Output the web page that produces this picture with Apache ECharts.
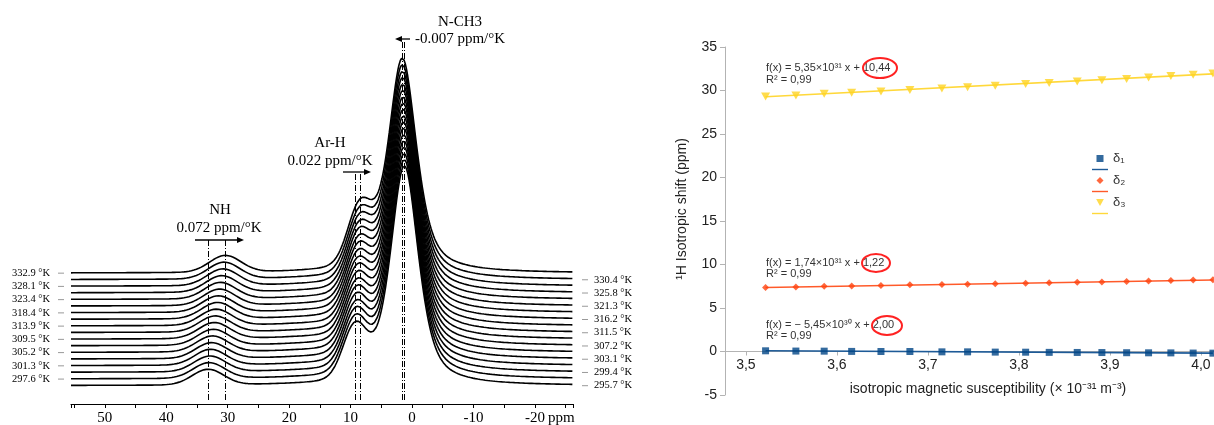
<!DOCTYPE html>
<html><head><meta charset="utf-8">
<script src="https://cdn.jsdelivr.net/npm/echarts@6/dist/echarts.min.js"></script>
<style>html,body{margin:0;padding:0;background:#fff}#c{width:1214px;height:425px}</style>
</head><body><div id="c"></div>
<script>
// ===== Left panel: variable-temperature 1H NMR spectra (bottom trace = lowest T) =====
const temperatures = [295.7, 297.6, 299.4, 301.3, 303.1, 305.2, 307.2, 309.5, 311.5, 313.9, 316.2, 318.4, 321.3, 323.4, 325.8, 328.1, 330.4, 332.9];
// peak positions (ppm) read per trace
const nhShift   = [33.2, 33.05, 32.9, 32.8, 32.65, 32.5, 32.35, 32.2, 32.05, 31.9, 31.7, 31.55, 31.35, 31.2, 31.0, 30.8, 30.6, 30.4];
const arhShift  = [9.27, 9.22, 9.17, 9.12, 9.08, 9.03, 8.98, 8.93, 8.88, 8.83, 8.78, 8.73, 8.67, 8.62, 8.57, 8.52, 8.49, 8.46];
const nch3Shift = [1.25, 1.27, 1.29, 1.31, 1.33, 1.35, 1.37, 1.39, 1.41, 1.43, 1.45, 1.47, 1.49, 1.51, 1.53, 1.55, 1.57, 1.58];
// peak heights (intensity units) read per trace
const nch3Height = [220, 219.5, 219, 219, 218.5, 218, 218, 217.5, 217, 217, 216.5, 216, 216, 215.5, 215.5, 215, 215, 215];
const arhHeight  = [50, 50.5, 51, 51, 51.5, 52, 52, 52.5, 53, 53, 53.5, 54, 54, 54.5, 54.5, 55, 55, 55.5];
const nhHeight   = [15.5, 15.5, 15.5, 15.6, 15.6, 15.7, 15.7, 15.8, 15.8, 15.9, 16, 16, 16.1, 16.2, 16.3, 16.4, 16.5, 16.6];
// line widths (FWHM, ppm) and Lorentzian fraction
const nch3Width = 5.5, arhWidth = 4.6, nhWidth = 6.0, nch3Lorentz = 0.6;
const slopes = ['0.072 ppm/°K', '0.022 ppm/°K', '-0.007 ppm/°K'];
const peakNames = ['NH', 'Ar-H', 'N-CH3'];

// ===== Right panel: isotropic shift vs isotropic magnetic susceptibility =====
const susceptibility = [3.5216, 3.5549, 3.5860, 3.6162, 3.6484, 3.6802, 3.7154, 3.7436, 3.7740, 3.8074, 3.8333, 3.8641, 3.8912, 3.9184, 3.9425, 3.9670, 3.9915, 4.0132];
const delta1 = [0.08, 0.05, 0.04, 0.01, 0.00, 0.00, -0.04, -0.04, -0.07, -0.08, -0.10, -0.11, -0.12, -0.14, -0.15, -0.16, -0.18, -0.19];
const delta2 = [7.37, 7.42, 7.49, 7.54, 7.59, 7.66, 7.70, 7.73, 7.80, 7.85, 7.89, 7.95, 8.00, 8.04, 8.10, 8.16, 8.22, 8.25];
const delta3 = [29.31, 29.43, 29.62, 29.75, 29.89, 30.05, 30.24, 30.36, 30.55, 30.74, 30.86, 31.03, 31.19, 31.32, 31.49, 31.67, 31.80, 31.96];
// trend line end values (at first and last susceptibility)
const trend1 = [0.08, -0.19];
const trend2 = [7.35, 8.21];
const trend3 = [29.28, 31.91];
const fitText = [
  ['f(x) = − 5,45×10³⁰ x + 2,00', 'R² = 0,99'],
  ['f(x) = 1,74×10³¹ x + 1,22', 'R² = 0,99'],
  ['f(x) = 5,35×10³¹ x + 10,44', 'R² = 0,99']
];
const seriesNames = ['δ₁', 'δ₂', 'δ₃'];
const seriesColors = ['#004586', '#ff420e', '#ffd320'];
const trendColors = ['#1d5a97', '#ff5a2a', '#ffd83a'];

// ---------- build ----------
const PPM_MAX = 55.5, PPM_MIN = -26.2, BASE0 = 18.3, STEP = 6.62;
function shape(d, fwhm, eta) {
  const x = d / (fwhm / 2);
  return eta / (1 + x * x) + (1 - eta) * Math.exp(-Math.LN2 * x * x);
}
const ppmGrid = [];
for (let k = 0; PPM_MAX - k * 0.2 >= PPM_MIN - 1e-9; k++) ppmGrid.push(+(PPM_MAX - k * 0.2).toFixed(2));
const serif = 'Liberation Serif';
const sans = 'Liberation Sans';

const series = [];
temperatures.forEach((t, i) => {
  const base = BASE0 + i * STEP;
  const data = ppmGrid.map(p => [p,
    base + nch3Height[i] * shape(p - nch3Shift[i], nch3Width, nch3Lorentz)
         + arhHeight[i] * shape(p - arhShift[i], arhWidth, 0)
         + nhHeight[i] * shape(p - nhShift[i], nhWidth, 0)]);
  const s = {
    type: 'line', name: t.toFixed(1) + ' °K', xAxisIndex: 0, yAxisIndex: 0,
    data, showSymbol: false, symbol: 'none', clip: false, silent: true, animation: false,
    lineStyle: { color: '#000', width: 1.6 }, z: 2
  };
  if (i === 0) {
    const last = temperatures.length - 1;
    const ml = (x, top) => [{ coord: [x, 4] }, { coord: [x, top] }];
    s.markLine = {
      silent: true, symbol: 'none', animation: false, label: { show: false },
      lineStyle: { color: '#000', width: 1, type: [6, 2, 1, 2] },
      data: [ml(nhShift[0], 166), ml(nhShift[last], 166), ml(arhShift[0], 231), ml(arhShift[last], 231),
             ml(nch3Shift[0], 362), ml(nch3Shift[last], 362)]
    };
  }
  series.push(s);
});

for (let k = 0; k < 3; k++) {
  const tr = [trend1, trend2, trend3][k];
  series.push({
    type: 'line', name: seriesNames[k] + ' trend', xAxisIndex: 1, yAxisIndex: 1,
    data: [[susceptibility[0], tr[0]], [susceptibility[susceptibility.length - 1], tr[1]]],
    symbol: 'none', showSymbol: false, silent: true, animation: false, clip: false,
    color: trendColors[k], lineStyle: { color: trendColors[k], width: 1.6 }, z: 3
  });
}
const symbols = ['rect', 'diamond', 'triangle'];
for (let k = 0; k < 3; k++) {
  const vals = [delta1, delta2, delta3][k];
  series.push({
    type: 'scatter', name: seriesNames[k], xAxisIndex: 1, yAxisIndex: 1,
    data: susceptibility.map((x, j) => [x, vals[j]]),
    symbol: symbols[k], symbolSize: k === 2 ? [9, 8] : 7, symbolRotate: k === 2 ? 180 : 0,
    itemStyle: { color: seriesColors[k] }, color: seriesColors[k],
    silent: true, animation: false, clip: false, z: 4
  });
}

const chart = echarts.init(document.getElementById('c'), null, { renderer: 'canvas' });
const Y_MIN = -5, Y_MAX = 35, GRID2_TOP = 47, GRID2_BOTTOM = 30;
const zeroOffset = -(425 - GRID2_BOTTOM - GRID2_TOP) * (0 - Y_MIN) / (Y_MAX - Y_MIN); // lift x axis to y = 0
chart.setOption({
  animation: false,
  backgroundColor: '#fff',
  grid: [
    { left: 71, right: 641, top: 30, bottom: 21, containLabel: false, outerBoundsMode: 'none' },
    { left: 725, right: 0, top: GRID2_TOP, bottom: GRID2_BOTTOM, containLabel: false, outerBoundsMode: 'none' }
  ],
  xAxis: [
    {
      gridIndex: 0, type: 'value', inverse: true, min: PPM_MIN, max: PPM_MAX, splitNumber: 16,
      axisLine: { show: true, onZero: false, lineStyle: { color: '#000', width: 1.2 } },
      axisTick: { show: true, length: 4, lineStyle: { color: '#000' } },
      splitLine: { show: false },
      axisLabel: {
        margin: 7, fontFamily: serif, fontSize: 15, color: '#000',
        formatter: v => (Math.abs(v % 10) < 1e-9 ? String(Math.round(v)) : '')
      }
    },
    {
      gridIndex: 1, type: 'value', min: 3.477, max: 4.0144, splitNumber: 6, offset: zeroOffset,
      axisLine: { show: true, onZero: false, lineStyle: { color: '#b3b3b3', width: 1 } },
      axisTick: { show: true, length: 4, lineStyle: { color: '#b3b3b3' } },
      splitLine: { show: false },
      axisLabel: {
        margin: 7, fontFamily: sans, fontSize: 14, color: '#222',
        formatter: v => (Math.abs(v * 10 - Math.round(v * 10)) < 1e-6 ? v.toFixed(1).replace('.', ',') : '')
      },
      name: 'isotropic magnetic susceptibility (× 10⁻³¹ m⁻³)', nameLocation: 'middle', nameGap: 31,
      nameTextStyle: { fontFamily: sans, fontSize: 14, color: '#222', padding: [0, 0, 0, 37] }
    }
  ],
  yAxis: [
    { gridIndex: 0, type: 'value', min: 0, max: 374, show: false },
    {
      gridIndex: 1, type: 'value', min: Y_MIN, max: Y_MAX, interval: 5,
      axisLine: { show: true, onZero: false, lineStyle: { color: '#b3b3b3' } },
      axisTick: { show: true, length: 5, lineStyle: { color: '#b3b3b3' } },
      splitLine: { show: false },
      axisLabel: { margin: 8, fontFamily: sans, fontSize: 14, color: '#222' },
      name: '¹H Isotropic shift (ppm)', nameLocation: 'middle', nameGap: 36,
      nameTextStyle: { fontFamily: sans, fontSize: 14, color: '#222', padding: [0, 0, 0, 24] }
    }
  ],
  legend: {
    left: 1087, top: 147, orient: 'vertical', itemWidth: 16, itemHeight: 7, itemGap: -2,
    selectedMode: false,
    textStyle: { fontFamily: sans, fontSize: 13, color: '#333' },
    formatter: n => (n.indexOf('trend') >= 0 ? ' ' : n),
    data: [
      { name: 'δ₁', icon: 'path://M0,0H10V10H0Z' },
      { name: 'δ₁ trend', icon: 'path://M0,0H16V1.4H0Z' },
      { name: 'δ₂', icon: 'path://M5,0L10,5L5,10L0,5Z' },
      { name: 'δ₂ trend', icon: 'path://M0,0H16V1.4H0Z' },
      { name: 'δ₃', icon: 'path://M0,0H10L5,9Z' },
      { name: 'δ₃ trend', icon: 'path://M0,0H16V1.4H0Z' }
    ]
  },
  series
});

// ---- annotations positioned through the axes ----
const g = [];
const toPx = (x, y) => chart.convertToPixel({ xAxisIndex: 0, yAxisIndex: 0 }, [x, y]);
temperatures.forEach((t, i) => {
  const py = toPx(PPM_MAX, BASE0 + i * STEP)[1];
  const label = t.toFixed(1) + ' °K';
  if (i % 2 === 1) {
    g.push({ type: 'line', shape: { x1: 58, y1: py, x2: 64, y2: py }, style: { stroke: '#999', lineWidth: 1 } });
    g.push({ type: 'text', x: 12, y: py, style: { text: label, font: '10.5px ' + serif, fill: '#000', verticalAlign: 'middle', textVerticalAlign: 'middle' } });
  } else {
    g.push({ type: 'line', shape: { x1: 582, y1: py, x2: 588, y2: py }, style: { stroke: '#999', lineWidth: 1 } });
    g.push({ type: 'text', x: 594, y: py, style: { text: label, font: '10.5px ' + serif, fill: '#000', verticalAlign: 'middle', textVerticalAlign: 'middle' } });
  }
});
g.push({ type: 'text', x: 548, y: 418, style: { text: 'ppm', font: '15px ' + serif, fill: '#000', verticalAlign: 'middle', textVerticalAlign: 'middle' } });
// peak titles and slopes
const ctext = (txt, x, y) => ({ type: 'text', x, y, style: { text: txt, font: '15px ' + serif, fill: '#000', align: 'center', textAlign: 'center', verticalAlign: 'middle', textVerticalAlign: 'middle' } });
g.push(ctext(peakNames[0], 220, 210), ctext(slopes[0], 219, 228));
g.push(ctext(peakNames[1], 330, 143), ctext(slopes[1], 330, 161));
g.push(ctext(peakNames[2], 460, 22), ctext(slopes[2], 460, 39));
const arrow = (x1, x2, y) => {
  const dir = x2 > x1 ? 1 : -1;
  g.push({ type: 'line', shape: { x1, y1: y, x2: x2 - dir * 4, y2: y }, style: { stroke: '#000', lineWidth: 1.3 } });
  g.push({ type: 'polygon', shape: { points: [[x2, y], [x2 - dir * 7, y - 3], [x2 - dir * 7, y + 3]] }, style: { fill: '#000' } });
};
arrow(195, 244, 240);
arrow(343, 371, 172);
arrow(410, 395, 39);
// fit equations (right panel)
const eqY = [[325, 336], [262.5, 274], [67.5, 80]];
for (let k = 0; k < 3; k++) {
  g.push({ type: 'text', x: 766, y: eqY[k][0], style: { text: fitText[k][0], font: '11px ' + sans, fill: '#333', verticalAlign: 'middle', textVerticalAlign: 'middle' } });
  g.push({ type: 'text', x: 766, y: eqY[k][1], style: { text: fitText[k][1], font: '11px ' + sans, fill: '#333', verticalAlign: 'middle', textVerticalAlign: 'middle' } });
}
const ell = [[887, 325.5, 15, 9.5], [876, 263, 14, 9], [880, 68, 17, 10]];
ell.forEach(e => g.push({ type: 'ellipse', shape: { cx: e[0], cy: e[1], rx: e[2], ry: e[3] }, style: { fill: 'none', stroke: '#f22', lineWidth: 2 }, z: 10 }));
chart.setOption({ graphic: g });
</script>
</body></html>
